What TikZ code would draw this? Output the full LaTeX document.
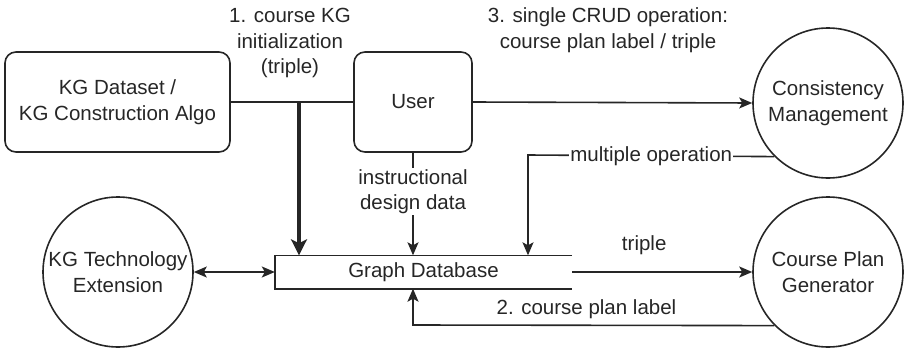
\documentclass[tikz,border=0pt]{standalone}
\usepackage{fontspec}
\setmainfont{Liberation Sans}
\usetikzlibrary{arrows.meta}
\begin{document}
\begin{tikzpicture}[x=1pt,y=-1pt,
  every node/.style={font=\fontsize{20.5}{25.5}\selectfont, text=black!85, align=center},
  ln/.style={draw=black!85, line width=1.6pt},
  arr/.style={ln, -{Stealth[length=13pt,width=11pt,inset=3pt]}},
  darr/.style={ln, {Stealth[length=13pt,width=11pt,inset=3pt]}-{Stealth[length=13pt,width=11pt,inset=3pt]}},
  thickarr/.style={draw=black!85, line width=3.5pt, -{Stealth[length=16pt,width=16pt,inset=4pt]}},
  rbox/.style={draw=black!85, line width=1.6pt, rounded corners=11pt, inner sep=0pt},
  proc/.style={draw=black!85, line width=1.6pt, circle, minimum size=150pt, inner sep=0pt},
  lbl/.style={fill=white, inner sep=1pt}
]
\useasboundingbox (0,0) rectangle (905,351);

\node[rbox, minimum width=225pt, minimum height=100pt] (kg) at (117.5,102) {KG Dataset /\\KG Construction Algo};
\node[rbox, minimum width=118pt, minimum height=100pt] (user) at (413,102) {User};
\node[proc] (cm) at (828,103) {Consistency\\Management};
\node[proc] (cpg) at (828,272) {Course Plan\\Generator};
\node[proc] (kgt) at (118,272) {KG Technology\\Extension};
\node[minimum width=297pt, minimum height=33pt, inner sep=0pt] (gdb) at (423.5,272) {Graph Database};
\draw[ln] (gdb.north east) -- (gdb.north west) -- (gdb.south west) -- (gdb.south east);

\node (t1) at (290,43) {1. course KG\\initialization\\(triple)};
\node (t3) at (608,30) {3. single CRUD operation:\\course plan label / triple};

% KG dataset to user, with branch down to graph database
\draw[ln] (kg.east) -- (user.west);
\coordinate (j) at (299,102);
\draw[thickarr] (j) -- (j |- gdb.north);

% user to consistency management
\draw[arr] (user.east) -- (cm.west);

% instructional design data
\draw[arr] (user.south) -- node[lbl, pos=0.38] {instructional\\design data} (user.south |- gdb.north);

% multiple operation
\coordinate (mo) at (528,155);
\draw[arr] (cm.south west) -- node[lbl, pos=0.5, inner sep=1pt] {multiple operation} (mo) -- (mo |- gdb.north);

% graph database to course plan generator
\draw[arr] (gdb.east) -- node[above=13pt, pos=0.4] {triple} (cpg.west);

% course plan label back
\coordinate (cp) at (413,325);
\draw[arr] (cpg.south west) -- node[above=2pt, pos=0.52] {2. course plan label} (cp) -- (cp |- gdb.south);

% KG technology extension
\draw[darr] (kgt.east) -- (gdb.west);
\end{tikzpicture}
\end{document}
